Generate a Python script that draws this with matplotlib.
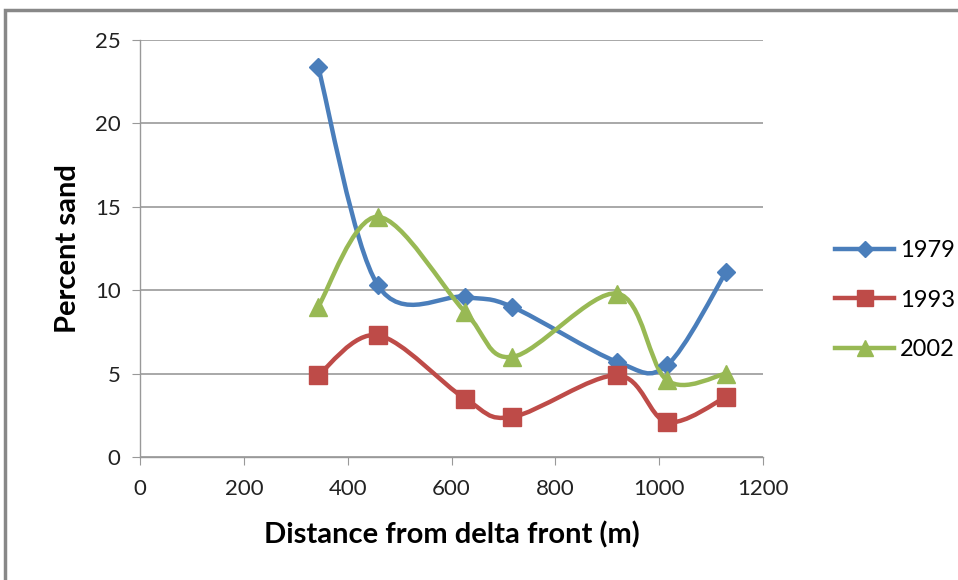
import numpy as np
import matplotlib
matplotlib.use("Agg")
import matplotlib.pyplot as plt
from matplotlib.path import Path
from matplotlib.patches import PathPatch, Rectangle
from matplotlib.lines import Line2D

plt.rcParams['font.family'] = ['Lato', 'DejaVu Sans']

distance = [343, 458, 626, 717, 919, 1015, 1129]
sand_1979 = [23.4, 10.3, 9.6, 9.0, 5.7, 5.5, 11.1]
sand_1993 = [4.9, 7.3, 3.5, 2.4, 4.9, 2.1, 3.6]
sand_2002 = [9.0, 14.4, 8.7, 6.0, 9.8, 4.6, 5.0]
series_names = ["1979", "1993", "2002"]
colors = ["#4A7EBB", "#BE4B48", "#98B954"]
markers = ["D", "s", "^"]
msizes = [9, 13, 13]

W, H = 958, 580
fig = plt.figure(figsize=(W / 100, H / 100), dpi=100)
ax = fig.add_axes([140 / W, 1 - 457 / H, (763 - 140) / W, (457 - 40) / H])

# outer chart frame
fig.patches.append(Rectangle((5 / W, -0.1), 2, 1 - 10 / H + 0.1, transform=fig.transFigure,
                             fill=False, edgecolor="#888888", linewidth=2.5))


def smooth_path(xs, ys):
    pts = np.column_stack([xs, ys]).astype(float)
    n = len(pts)
    verts = [pts[0]]
    codes = [Path.MOVETO]
    for i in range(n - 1):
        p0 = pts[i - 1] if i > 0 else pts[i]
        p1 = pts[i]
        p2 = pts[i + 1]
        p3 = pts[i + 2] if i + 2 < n else pts[i + 1]
        c1 = p1 + (p2 - p0) / 6.0
        c2 = p2 - (p3 - p1) / 6.0
        verts += [c1, c2, p2]
        codes += [Path.CURVE4] * 3
    return Path(verts, codes)


handles = []
for ys, name, c, m, ms in zip([sand_1979, sand_1993, sand_2002], series_names, colors, markers, msizes):
    patch = PathPatch(smooth_path(distance, ys), facecolor="none", edgecolor=c, linewidth=3.2,
                      capstyle="round", joinstyle="round", zorder=3)
    ax.add_patch(patch)
    ax.plot(distance, ys, linestyle="none", marker=m, markersize=ms, color=c,
            markeredgecolor=c, zorder=4)
    handles.append(Line2D([0], [0], color=c, linewidth=3.2, marker=m, markersize=ms * 0.85,
                          markeredgecolor=c))

ax.set_xlim(0, 1200)
ax.set_ylim(0, 25)
ax.set_xticks(range(0, 1201, 200))
ax.set_yticks(range(0, 26, 5))
ax.yaxis.grid(True, color="#999999", linewidth=1.2)
ax.set_axisbelow(True)
for s in ["top", "right"]:
    ax.spines[s].set_visible(False)
for s in ["left", "bottom"]:
    ax.spines[s].set_color("#999999")
    ax.spines[s].set_linewidth(1.0)
ax.tick_params(axis="both", direction="out", color="#999999", length=6, labelsize=16,
               labelcolor="#222222")
ax.tick_params(axis="x", pad=10)
ax.tick_params(axis="y", pad=8)
ax.set_xlabel("Distance from delta front (m)", fontsize=21, fontweight="bold", labelpad=16)
ax.set_ylabel("Percent sand", fontsize=21, fontweight="bold", labelpad=10)

fig.legend(handles, series_names, loc="upper left", bbox_to_anchor=(814 / W, 1 - 219 / H),
           frameon=False, fontsize=17, handlelength=2.5, labelspacing=1.2, handletextpad=0.25)

fig.savefig("out.png", dpi=100)
